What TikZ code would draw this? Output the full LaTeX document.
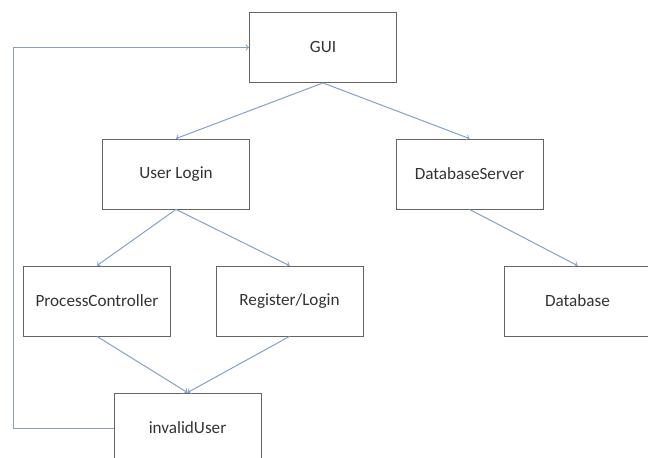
\documentclass[tikz,border=0pt]{standalone}
\usepackage{fontspec}
\setmainfont{Carlito}
\usetikzlibrary{calc,positioning}
\definecolor{linkblue}{RGB}{130,160,200}
\definecolor{boxgray}{RGB}{100,100,100}

\begin{document}
\begin{tikzpicture}[x=0.025cm,y=-0.025cm,
		box/.style={draw=boxgray,line width=0.6pt,minimum width=3.675cm,minimum height=1.75cm,font=\fontsize{12.2}{14}\selectfont,text=black!80},
		flow/.style={draw=linkblue,line width=0.7pt,->}]
				\useasboundingbox (0,0) rectangle (648,458);
				
				\node[box] (gui) at (323,47.5) {GUI};
				\node[box] (ul) at (176,174) {User Login};
				\node[box] (dbs) at (469.5,174) {DatabaseServer};
				\node[box] (pc) at (97,301) {ProcessController};
				\node[box] (rl) at (289.5,301) {Register/Login};
				\node[box] (db) at (577.5,301) {Database};
				\node[box] (iu) at (187.5,428) {invalidUser};
				\coordinate (side) at (13,0);
				
				\draw[flow] (gui.south) -- (ul.north);
				\draw[flow] (gui.south) -- (dbs.north);
				\draw[flow] (ul.south) -- (pc.north);
				\draw[flow] (ul.south) -- (rl.north);
				\draw[flow] (dbs.south) -- (db.north);
				
				\foreach \x in {pc,rl}{
					\draw[flow] (\x.south) -- (iu.north);}
				
				\draw[flow] (iu.west) -- (iu.west -| side) |- (gui.west);
			\end{tikzpicture}
\end{document}
